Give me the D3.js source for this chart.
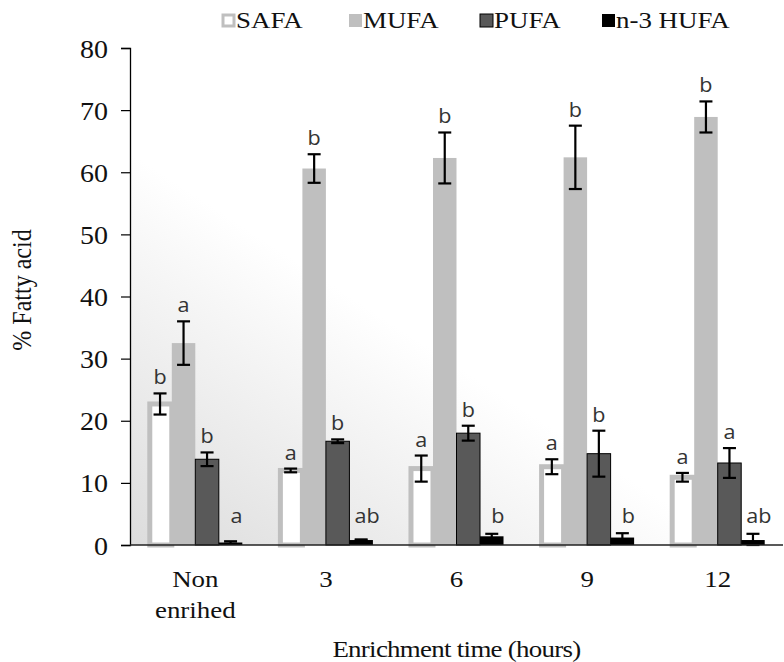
<!DOCTYPE html>
<html>
<head>
<meta charset="utf-8">
<script src="https://cdn.jsdelivr.net/npm/d3@7"></script>
<style>
  body { margin: 0; background: #fff; }
  svg { display: block; }
</style>
</head>
<body>
<div id="chart"></div>
<script>
// data
const categories = ["Non enrihed", "3", "6", "9", "12"];
const series = ["SAFA", "MUFA", "PUFA", "n-3 HUFA"];

const safa    = [22.7, 12.0, 12.3, 12.6, 10.9];
const safaErr = [1.7, 0.3, 2.1, 1.2, 0.7];
const mufa    = [32.5, 60.6, 62.3, 62.4, 68.9];
const mufaErr = [3.5, 2.3, 4.1, 5.1, 2.5];
const pufa    = [13.8, 16.7, 18.0, 14.7, 13.2];
const pufaErr = [1.1, 0.3, 1.2, 3.7, 2.4];
const hufa    = [0.4, 0.8, 1.4, 1.2, 0.8];
const hufaErr = [0.2, 0.1, 0.4, 0.7, 1.0];

const safaSig = ["b", "a", "a", "a", "a"];
const mufaSig = ["a", "b", "b", "b", "b"];
const pufaSig = ["b", "b", "b", "b", "a"];
const hufaSig = ["a", "ab", "b", "b", "ab"];

const yTicks = [0, 10, 20, 30, 40, 50, 60, 70, 80];

const W = 784, H = 662;
const margin = { top: 47, right: 1, bottom: 117, left: 130 };
const serif = "'Liberation Serif', 'Times New Roman', serif";
const sx = 1.17; // the source figure is stretched sideways

const svg = d3.select("#chart").append("svg")
  .attr("width", W).attr("height", H);

const x = d3.scaleBand().domain(categories)
  .range([margin.left, W - margin.right])
  .paddingInner(0.28).paddingOuter(0.14);
const xs = d3.scaleBand().domain(series).range([0, x.bandwidth()]);
const y = d3.scaleLinear().domain([0, 80]).range([H - margin.bottom, margin.top + 1]);

// soft plot-area shading, greyer towards the lower left
const defs = svg.append("defs");
const grad = defs.append("linearGradient").attr("id", "bg")
  .attr("x1", 0).attr("y1", 1).attr("x2", 0.6).attr("y2", 0.3);
grad.append("stop").attr("offset", "0%").attr("stop-color", "#dcdcdc");
grad.append("stop").attr("offset", "65%").attr("stop-color", "#ffffff");

svg.append("rect")
  .attr("x", margin.left).attr("y", y(80))
  .attr("width", W - margin.right - margin.left)
  .attr("height", y(0) - y(80))
  .attr("fill", "url(#bg)");

const rows = categories.map((c, i) => ({
  cat: c,
  vals: [
    { s: "SAFA", v: safa[i], e: safaErr[i], sig: safaSig[i] },
    { s: "MUFA", v: mufa[i], e: mufaErr[i], sig: mufaSig[i] },
    { s: "PUFA", v: pufa[i], e: pufaErr[i], sig: pufaSig[i] },
    { s: "n-3 HUFA", v: hufa[i], e: hufaErr[i], sig: hufaSig[i] }
  ]
}));

const style = {
  "SAFA":     { fill: "#ffffff", stroke: "#bfbfbf", sw: 5 },
  "MUFA":     { fill: "#bfbfbf", stroke: "none", sw: 0 },
  "PUFA":     { fill: "#595959", stroke: "#000", sw: 1 },
  "n-3 HUFA": { fill: "#000000", stroke: "none", sw: 0 }
};

const groups = svg.selectAll(".grp").data(rows).enter()
  .append("g").attr("class", "grp")
  .attr("transform", d => `translate(${x(d.cat)},0)`);

groups.selectAll("rect.bar").data(d => d.vals).enter()
  .append("rect").attr("class", "bar")
  .attr("x", d => xs(d.s) + (d.s === "SAFA" ? 1.5 : 0))
  .attr("width", d => xs.bandwidth() - (d.s === "SAFA" ? 1.5 : 0))
  .attr("y", d => y(d.v))
  .attr("height", d => y(0) - y(d.v))
  .attr("fill", d => style[d.s].fill)
  .attr("stroke", d => style[d.s].stroke)
  .attr("stroke-width", d => style[d.s].sw);

// error bars
const eb = groups.selectAll("g.err").data(d => d.vals).enter()
  .append("g").attr("class", "err")
  .attr("stroke", "#000").attr("stroke-width", 2.2);
const cx = d => xs(d.s) + xs.bandwidth() / 2;
const lo = d => y(Math.max(0, d.v - d.e));
eb.append("line")
  .attr("x1", cx).attr("x2", cx)
  .attr("y1", d => y(d.v + d.e)).attr("y2", lo);
eb.append("line")
  .attr("x1", d => cx(d) - 6.5).attr("x2", d => cx(d) + 6.5)
  .attr("y1", d => y(d.v + d.e)).attr("y2", d => y(d.v + d.e));
eb.append("line")
  .attr("x1", d => cx(d) - 6.5).attr("x2", d => cx(d) + 6.5)
  .attr("y1", lo).attr("y2", lo);

// significance letters
groups.selectAll("text.sig").data(d => d.vals).enter()
  .append("text").attr("class", "sig")
  .attr("transform", d => `translate(${cx(d) + (d.s === "n-3 HUFA" ? 6 : 0)},${Math.min(y(d.v + d.e) - 9, y(0) - 22)}) scale(1.08,1)`)
  .attr("text-anchor", "middle")
  .attr("font-family", "'Open Sans', 'Liberation Sans', sans-serif")
  .attr("font-size", 20)
  .attr("fill", "#333")
  .text(d => d.sig);

// axes
const yAxis = svg.append("g")
  .attr("transform", `translate(${margin.left},0)`)
  .call(d3.axisLeft(y).tickValues(yTicks).tickSize(9).tickPadding(14));
yAxis.select(".domain").attr("stroke", "#000").attr("stroke-width", 1.3);
yAxis.selectAll(".tick line").attr("stroke", "#000").attr("stroke-width", 1.2);
yAxis.selectAll(".tick text")
  .attr("font-family", serif).attr("font-size", 25).attr("fill", "#111")
  .attr("x", -22 / 1.12).attr("dy", "0.36em")
  .attr("transform", "scale(1.12,1)");

svg.append("line")
  .attr("x1", margin.left).attr("x2", W - margin.right)
  .attr("y1", y(0)).attr("y2", y(0))
  .attr("stroke", "#222").attr("stroke-width", 1.3);

// category labels
svg.selectAll(".cat").data(categories).enter()
  .append("text").attr("class", "cat")
  .attr("text-anchor", "middle")
  .attr("font-family", serif).attr("font-size", 23).attr("fill", "#111")
  .attr("transform", d => `translate(${x(d) + x.bandwidth() / 2},${y(0) + 42}) scale(${sx},1)`)
  .each(function (d) {
    const parts = d === "Non enrihed" ? ["Non", "enrihed"] : [d];
    d3.select(this).selectAll("tspan").data(parts).enter()
      .append("tspan").attr("x", 0).attr("dy", (p, i) => i ? 31 : 0).text(p => p);
  });

svg.append("text")
  .attr("transform", `translate(${(margin.left + W - margin.right) / 2},657) scale(${sx},1)`)
  .attr("text-anchor", "middle")
  .attr("font-family", serif).attr("font-size", 23).attr("fill", "#111")
  .attr("letter-spacing", -0.6)
  .text("Enrichment time (hours)");

svg.append("text")
  .attr("transform", `translate(31,290) scale(${sx},1) rotate(-90)`)
  .attr("text-anchor", "middle")
  .attr("font-family", serif).attr("font-size", 24).attr("fill", "#111")
  .text("% Fatty acid");

// legend
const legendX = [221, 348, 479, 601];
const lg = svg.selectAll(".lg").data(series).enter()
  .append("g").attr("class", "lg")
  .attr("transform", (d, i) => `translate(${legendX[i]},13)`);
lg.append("rect")
  .attr("x", d => d === "SAFA" ? 2 : 1).attr("y", d => d === "SAFA" ? 2 : 1)
  .attr("width", d => d === "SAFA" ? 11 : 13).attr("height", d => d === "SAFA" ? 11 : 13)
  .attr("fill", d => style[d].fill)
  .attr("stroke", d => d === "SAFA" ? "#bfbfbf" : (d === "PUFA" ? "#000" : "none"))
  .attr("stroke-width", d => d === "SAFA" ? 3 : 1);
lg.append("text")
  .attr("transform", `translate(15,15) scale(${sx},1)`)
  .attr("font-family", serif).attr("font-size", 23).attr("fill", "#111")
  .text(d => d);
</script>
</body>
</html>
